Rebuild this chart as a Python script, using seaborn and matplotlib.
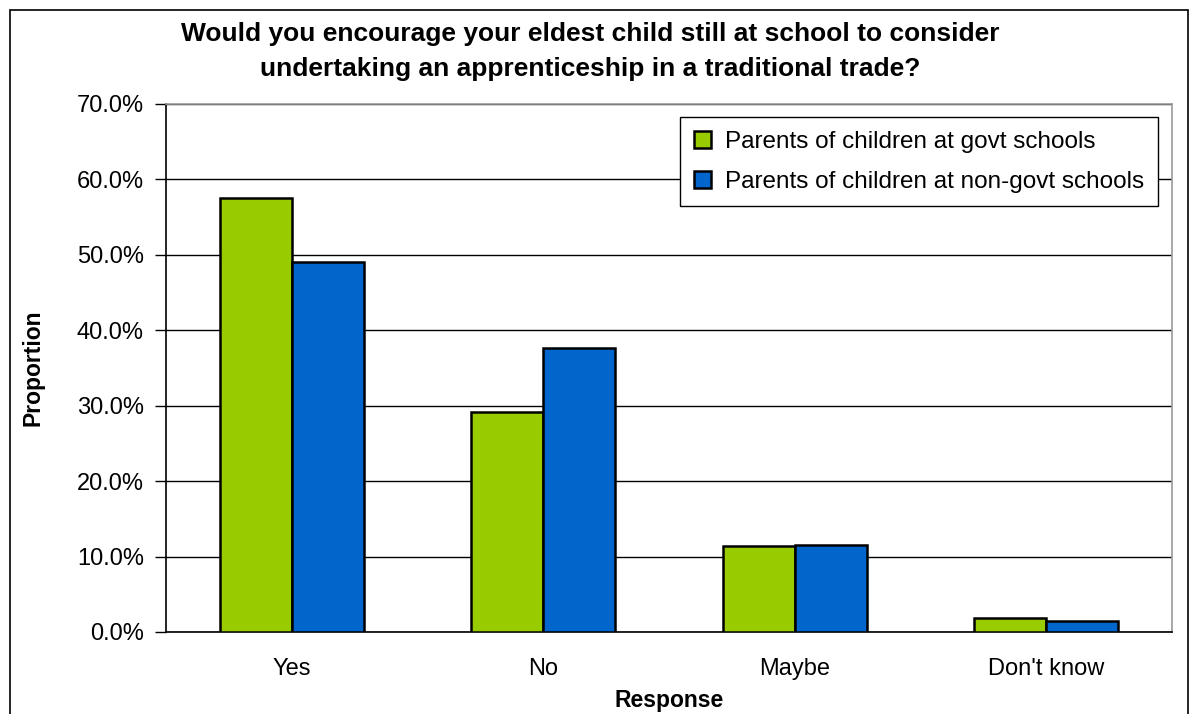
import pandas as pd
import matplotlib.pyplot as plt
import seaborn as sns
from matplotlib.ticker import PercentFormatter

# data
responses = ["Yes", "No", "Maybe", "Don't know"]
govt = [57.5, 29.2, 11.4, 1.8]
non_govt = [49.0, 37.6, 11.6, 1.5]
groups = ["Parents of children at govt schools", "Parents of children at non-govt schools"]

df = pd.DataFrame({
    "Response": responses * 2,
    "Proportion": govt + non_govt,
    "Group": [groups[0]] * 4 + [groups[1]] * 4,
})

sns.set_style("white")
plt.rcParams["font.family"] = ["Liberation Sans", "DejaVu Sans"]
plt.rcParams["text.color"] = "black"
plt.rcParams["axes.labelcolor"] = "black"
plt.rcParams["xtick.color"] = "black"
plt.rcParams["ytick.color"] = "black"

fig = plt.figure(figsize=(11.98, 7.14), dpi=100)
ax = fig.add_axes([166 / 1198, 1 - 632 / 714, (1172 - 166) / 1198, (632 - 104) / 714])

sns.barplot(data=df, x="Response", y="Proportion", hue="Group",
            palette=["#99cc00", "#0066cc"], saturation=1, width=0.573,
            edgecolor="black", linewidth=1.8, ax=ax, zorder=3)

ax.set_ylim(0, 70)
ax.set_xlim(-0.5, 3.5)
ax.set_yticks(range(0, 71, 10))
ax.yaxis.set_major_formatter(PercentFormatter(decimals=1))
ax.grid(axis="y", color="black", linewidth=1, zorder=0)

# category boundary ticks on x axis
ax.set_xticks([-0.5, 0.5, 1.5, 2.5, 3.5], minor=True)
ax.tick_params(axis="x", which="minor", length=8, width=1, color="black", direction="out")
ax.tick_params(axis="x", which="major", length=0, labelsize=17, pad=19)
ax.tick_params(axis="y", length=8, width=1, color="black", direction="out", labelsize=17,
               left=True, pad=8)

for side in ["top", "right"]:
    ax.spines[side].set_color("#999999")
for side in ["left", "bottom"]:
    ax.spines[side].set_color("black")
for s in ax.spines.values():
    s.set_linewidth(1.2)

ax.set_xlabel("Response", fontsize=16.5, fontweight="bold", labelpad=6)
ax.set_ylabel("Proportion", fontsize=16.5, fontweight="bold", labelpad=23)

fig.text(590 / 1198, 0.928, "Would you encourage your eldest child still at school to consider\n"
         "undertaking an apprenticeship in a traditional trade?",
         ha="center", va="center", fontsize=19, fontweight="bold", linespacing=1.6)

leg = ax.legend(loc="upper right", bbox_to_anchor=(0.986, 0.975), borderaxespad=0,
                fontsize=17.5, frameon=True, fancybox=False, edgecolor="black", framealpha=1,
                handlelength=0.7, handleheight=0.7, handletextpad=0.6,
                borderpad=0.55, labelspacing=0.75)
leg.get_frame().set_linewidth(1)

# outer chart border
fig.patches.append(plt.Rectangle((10 / 1198, -0.01), 1178 / 1198, 1 - 10 / 714 + 0.01,
                                 transform=fig.transFigure, fill=False,
                                 edgecolor="black", linewidth=1.2))

fig.savefig("out.png", dpi=100)
